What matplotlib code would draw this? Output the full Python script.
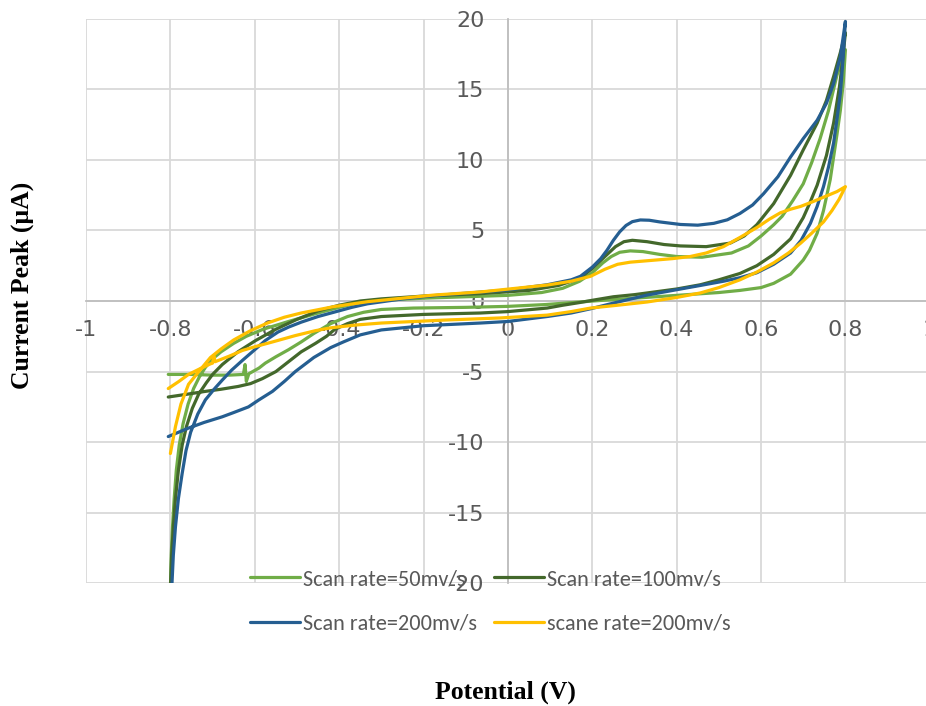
import matplotlib
matplotlib.use("Agg")
import matplotlib.pyplot as plt

# ---------------- data ----------------
labels = ["Scan rate=50mv/s", "Scan rate=100mv/s", "Scan rate=200mv/s", "scane rate=200mv/s"]
colors = ["#70AD47", "#43682B", "#255E91", "#FFC000"]

x_ticks = [-1, -0.8, -0.6, -0.4, -0.2, 0, 0.2, 0.4, 0.6, 0.8, 1]
x_tick_labels = ["-1", "-0.8", "-0.6", "-0.4", "-0.2", "0", "0.2", "0.4", "0.6", "0.8", "1"]
y_ticks = [-20, -15, -10, -5, 0, 5, 10, 15, 20]
y_tick_labels = ["-20", "-15", "-10", "-5", "0", "5", "10", "15", "20"]

# 50 mV/s (forward scan, then return scan)
x_50 = [-0.800, -0.798, -0.795, -0.791, -0.786, -0.779, -0.770, -0.758, -0.745, -0.730, -0.717, -0.700,
        -0.680, -0.650, -0.620, -0.580, -0.520, -0.456, -0.400, -0.350, -0.300, -0.200, -0.100, 0.000,
        0.080, 0.130, 0.170, 0.200, 0.225, 0.245, 0.265, 0.290, 0.320, 0.360, 0.400, 0.460, 0.530, 0.570,
        0.600, 0.630, 0.650, 0.675, 0.700, 0.720, 0.740, 0.760, 0.780, 0.800,
        0.795, 0.788, 0.780, 0.764, 0.748, 0.733, 0.715, 0.700, 0.670, 0.630, 0.600, 0.550, 0.500, 0.450,
        0.350, 0.250, 0.170, 0.090, 0.000, -0.100, -0.224, -0.300, -0.342, -0.380, -0.420, -0.460, -0.490,
        -0.520, -0.550, -0.575, -0.590, -0.605, -0.614, -0.620, -0.623, -0.627, -0.660, -0.700, -0.750,
        -0.805]
y_50 = [-20.5, -18.0, -16.0, -14.0, -12.0, -10.2, -8.7, -7.3, -6.2, -5.3, -4.7, -4.1,
        -3.6, -3.0, -2.5, -2.0, -1.45, -0.9, -0.45, -0.1, 0.05, 0.2, 0.3, 0.4,
        0.6, 0.9, 1.4, 2.0, 2.7, 3.15, 3.45, 3.55, 3.5, 3.3, 3.15, 3.1, 3.4, 3.9,
        4.6, 5.4, 6.0, 7.1, 8.3, 9.8, 11.5, 13.5, 16.0, 17.8,
        15.5, 13.5, 11.8, 8.6, 6.4, 4.8, 3.6, 2.9, 1.9, 1.25, 0.95, 0.75, 0.6, 0.5,
        0.3, 0.1, -0.07, -0.25, -0.38, -0.45, -0.5, -0.6, -0.8, -1.1, -1.6, -2.3, -2.9,
        -3.45, -3.95, -4.4, -4.75, -5.0, -5.15, -5.7, -4.5, -5.2, -5.25, -5.25, -5.2,
        -5.2]

# 100 mV/s
x_100 = [-0.800, -0.797, -0.793, -0.788, -0.781, -0.772, -0.762, -0.748, -0.733, -0.715, -0.700, -0.677,
         -0.640, -0.598, -0.550, -0.500, -0.450, -0.400, -0.350, -0.300, -0.200, -0.065, 0.050, 0.120,
         0.170, 0.200, 0.230, 0.255, 0.275, 0.295, 0.330, 0.370, 0.409, 0.470, 0.527, 0.560, 0.590, 0.630,
         0.670, 0.700, 0.733, 0.755, 0.772, 0.788, 0.800,
         0.793, 0.786, 0.772, 0.755, 0.733, 0.715, 0.700, 0.670, 0.630, 0.590, 0.550, 0.500, 0.456, 0.400,
         0.350, 0.300, 0.250, 0.200, 0.172, 0.130, 0.093, 0.000, -0.065, -0.200, -0.300, -0.350, -0.380,
         -0.410, -0.430, -0.456, -0.490, -0.520, -0.550, -0.582, -0.610, -0.639, -0.680, -0.717, -0.760,
         -0.805]
y_100 = [-20.5, -18.0, -16.0, -14.0, -12.0, -10.2, -8.9, -7.6, -6.6, -5.8, -5.2, -4.5,
         -3.6, -2.8, -2.0, -1.3, -0.7, -0.3, 0.0, 0.15, 0.35, 0.52, 0.75, 1.1,
         1.6, 2.3, 3.15, 3.85, 4.2, 4.3, 4.2, 4.0, 3.9, 3.85, 4.1, 4.6, 5.4, 6.9,
         8.9, 10.7, 12.6, 14.2, 15.9, 17.6, 19.0,
         17.0, 15.2, 12.6, 10.3, 8.2, 6.9, 5.9, 4.4, 3.3, 2.5, 1.95, 1.5, 1.15, 0.85,
         0.65, 0.45, 0.3, 0.05, -0.1, -0.3, -0.5, -0.75, -0.85, -0.95, -1.1, -1.3, -1.6,
         -2.0, -2.5, -3.0, -3.6, -4.3, -5.0, -5.5, -5.85, -6.05, -6.25, -6.4, -6.6,
         -6.8]

# 200 mV/s
x_200 = [-0.797, -0.793, -0.788, -0.781, -0.772, -0.763, -0.752, -0.735, -0.717, -0.695, -0.677, -0.655,
         -0.629, -0.600, -0.575, -0.545, -0.520, -0.490, -0.450, -0.413, -0.370, -0.333, -0.250, -0.176,
         -0.100, 0.000, 0.093, 0.150, 0.172, 0.200, 0.220, 0.235, 0.250, 0.265, 0.280, 0.295, 0.314, 0.335,
         0.360, 0.409, 0.450, 0.488, 0.520, 0.550, 0.580, 0.606, 0.640, 0.670, 0.700, 0.733, 0.755, 0.772,
         0.788, 0.800,
         0.794, 0.788, 0.780, 0.772, 0.760, 0.748, 0.733, 0.717, 0.695, 0.670, 0.630, 0.590, 0.550, 0.511,
         0.456, 0.400, 0.330, 0.250, 0.196, 0.150, 0.093, 0.000, -0.065, -0.200, -0.300, -0.350, -0.390,
         -0.420, -0.460, -0.504, -0.530, -0.558, -0.590, -0.615, -0.650, -0.677, -0.720, -0.757, -0.805]
y_200 = [-20.5, -18.0, -16.0, -14.0, -12.2, -10.6, -9.3, -8.0, -7.0, -6.2, -5.6, -4.9,
         -4.2, -3.45, -2.8, -2.2, -1.85, -1.5, -1.1, -0.8, -0.45, -0.2, 0.15, 0.38,
         0.55, 0.78, 1.15, 1.5, 1.75, 2.4, 3.0, 3.6, 4.3, 4.9, 5.35, 5.62, 5.74, 5.72,
         5.6, 5.42, 5.37, 5.5, 5.75, 6.2, 6.8, 7.6, 8.8, 10.2, 11.5, 12.8, 14.0, 15.4,
         17.3, 19.8,
         17.0, 14.7, 12.9, 11.2, 9.5, 8.1, 6.7, 5.5, 4.3, 3.4, 2.6, 2.0, 1.65, 1.4,
         1.1, 0.8, 0.42, -0.15, -0.55, -0.85, -1.1, -1.45, -1.56, -1.75, -2.05, -2.4, -2.9,
         -3.3, -4.0, -5.0, -5.7, -6.4, -7.0, -7.5, -7.9, -8.2, -8.6, -9.0, -9.6]

# second 200 mV/s scan
x_200b = [-0.805, -0.780, -0.757, -0.730, -0.705, -0.700, -0.697, -0.694, -0.660, -0.629, -0.595, -0.558,
          -0.504, -0.456, -0.420, -0.360, -0.300, -0.150, -0.018, 0.093, 0.150, 0.196, 0.260, 0.330,
          0.400, 0.456, 0.500, 0.550, 0.590, 0.630, 0.665, 0.694, 0.720, 0.748, 0.768, 0.785, 0.800,
          0.780, 0.748, 0.720, 0.694, 0.670, 0.646, 0.620, 0.590, 0.550, 0.511, 0.470, 0.432, 0.390,
          0.350, 0.290, 0.260, 0.230, 0.196, 0.150, 0.093, -0.065, -0.176, -0.250, -0.333, -0.413, -0.490,
          -0.530, -0.570, -0.610, -0.650, -0.680, -0.705, -0.730, -0.757, -0.775, -0.788, -0.800]
y_200b = [-6.2, -5.7, -5.2, -4.8, -4.45, -4.4, -3.9, -4.3, -3.9, -3.5, -3.2, -2.9,
          -2.45, -2.1, -1.9, -1.7, -1.56, -1.35, -1.2, -1.0, -0.75, -0.5, -0.3, -0.07,
          0.25, 0.57, 0.95, 1.5, 2.05, 2.7, 3.4, 4.1, 4.8, 5.6, 6.4, 7.2, 8.1,
          7.75, 7.35, 7.0, 6.7, 6.5, 6.25, 5.8, 5.2, 4.5, 3.85, 3.4, 3.15, 3.0,
          2.9, 2.75, 2.6, 2.25, 1.75, 1.4, 1.13, 0.64, 0.42, 0.2, -0.05, -0.4, -0.85,
          -1.15, -1.56, -2.1, -2.76, -3.4, -4.0, -4.9, -5.9, -7.3, -8.9, -10.8]

series_x = [x_50, x_100, x_200, x_200b]
series_y = [y_50, y_100, y_200, y_200b]

# ---------------- figure ----------------
W, H = 926, 706
fig = plt.figure(figsize=(W / 100, H / 100), dpi=100)
left_px, right_px, top_px, bot_px = 86, 929.8, 18.6, 583.4
ax = fig.add_axes([left_px / W, 1 - bot_px / H, (right_px - left_px) / W, (bot_px - top_px) / H])
ax.set_xlim(-1, 1)
ax.set_ylim(-20, 20)

handles = []
for xs, ys, c, lab in zip(series_x, series_y, colors, labels):
    h, = ax.plot(xs, ys, color=c, lw=2.3, solid_joinstyle="round", solid_capstyle="round",
                 label=lab, zorder=3)
    handles.append(h)

tick_font = ["Carlito", "Lato", "DejaVu Sans"]
ax.set_xticks(x_ticks)
ax.set_xticklabels(x_tick_labels, fontfamily=tick_font)
ax.set_yticks(y_ticks)
ax.set_yticklabels(y_tick_labels, fontfamily=tick_font)
ax.tick_params(axis="x", length=0, pad=14, labelsize=16, labelcolor="#595959")
ax.tick_params(axis="y", length=0, pad=17, labelsize=16, labelcolor="#595959")

ax.grid(True, color="#D9D9D9", lw=1.3, zorder=0)
ax.set_axisbelow(True)
for gl in ax.get_xgridlines() + ax.get_ygridlines():
    gl.set_clip_on(False)

for s in ["top", "right"]:
    ax.spines[s].set_visible(False)
ax.spines["left"].set_position(("data", 0))
ax.spines["bottom"].set_position(("data", 0))
for s in ["left", "bottom"]:
    ax.spines[s].set_color("#BFBFBF")
    ax.spines[s].set_linewidth(1.3)

order = [0, 2, 1, 3]
leg = fig.legend([handles[i] for i in order], [labels[i] for i in order], ncol=2,
                 loc="upper left", bbox_to_anchor=(250 / W, 1 - 569 / H), frameon=False,
                 borderpad=0, borderaxespad=0, handlelength=2.25, handletextpad=0.15,
                 columnspacing=0.75, labelspacing=1.1,
                 prop={"family": tick_font, "size": 16})
for t in leg.get_texts():
    t.set_color("#595959")

fig.text(505 / W, 1 - 692 / H, "Potential (V)", ha="center", va="center",
         fontfamily="Liberation Serif", fontweight="bold", fontsize=18.5)
fig.text(22 / W, 1 - 285 / H, "Current Peak (μA)", ha="center", va="center", rotation=90,
         fontfamily="Liberation Serif", fontweight="bold", fontsize=18.5)

fig.savefig("out.png", dpi=100)
